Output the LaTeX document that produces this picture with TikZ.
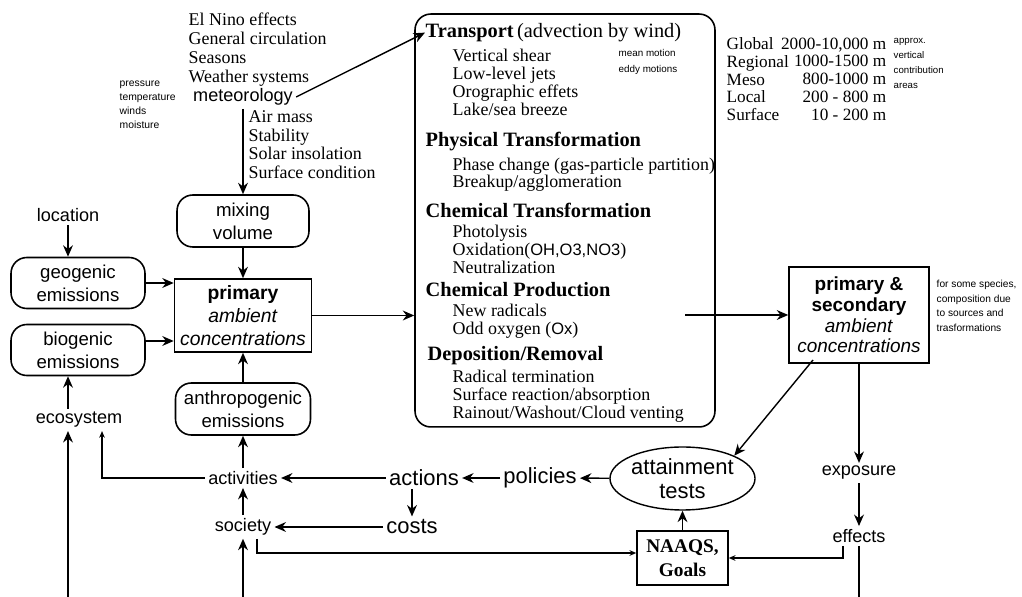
\documentclass[tikz,border=0pt]{standalone}
\usepackage{fontspec}
\setmainfont{Liberation Serif}
\setsansfont{Liberation Sans}
\usetikzlibrary{shapes.geometric, arrows.meta, positioning, calc}

\begin{document}
\begin{tikzpicture}[
  x=0.02cm, y=-0.02cm,
  line width=0.8pt,
  rbox/.style={draw, line width=0.9pt, rounded corners=9pt, align=center, inner sep=1pt,
               minimum width=2.68cm, minimum height=1.02cm,
               font=\sffamily\fontsize{10.6}{13}\selectfont},
  sbox/.style={draw, line width=0.9pt, align=center, inner sep=1pt},
  lbl/.style={font=\sffamily\fontsize{10.3}{12}\selectfont, inner sep=1.5pt},
  big/.style={font=\sffamily\fontsize{12.5}{13.6}\selectfont, inner sep=1.5pt},
  tiny/.style={font=\sffamily\fontsize{5.7}{8.4}\selectfont, align=left, inner sep=0pt, anchor=north west},
  items/.style={font=\fontsize{10.2}{10.3}\selectfont, align=left, inner sep=0pt, anchor=north west},
  head/.style={font=\fontsize{11.6}{13}\selectfont\bfseries, inner sep=0pt, anchor=base west},
  >={Stealth[length=6.5pt,width=5.6pt]},
  small/.style={-{Stealth[length=3.8pt,width=3.2pt]}},
]
  \useasboundingbox (0,0) rectangle (1022,597);

  % meteorology column
  \node[items, font=\fontsize{10.2}{10.9}\selectfont] (wx) at (188,12)
    {El Nino effects\\General circulation\\Seasons\\Weather systems};
  \node[tiny, font=\sffamily\fontsize{5.9}{8.1}\selectfont] (pty) at (119,80)
    {pressure\\temperature\\winds\\moisture};
  \node[lbl] (met) at (243,97) {meteorology};
  \node[items, font=\fontsize{10.2}{10.6}\selectfont] (air) at (248,110)
    {Air mass\\Stability\\Solar insolation\\Surface condition};

  \node[rbox, minimum width=2.64cm, minimum height=1.04cm] (mix) at (243,221) {mixing\\volume};
  \node[lbl] (location) at (68,215) {location};
  \node[rbox] (geo) at (78,283) {geogenic\\emissions};
  \node[rbox] (bio) at (78,350) {biogenic\\emissions};
  \node[sbox, minimum width=2.74cm, minimum height=1.46cm,
        font=\sffamily\fontsize{11}{13.3}\selectfont] (prim) at (243,315.5)
    {\textbf{primary}\\\textit{ambient}\\\textit{concentrations}};
  \node[rbox, minimum width=2.70cm, minimum height=1.04cm] (anth) at (243,409) {anthropogenic\\emissions};
  \node[lbl] (eco) at (79,420) {ecosystem};

  % processes
  \node[draw, line width=0.9pt, rounded corners=9pt, minimum width=6cm, minimum height=8.26cm,
        inner sep=0pt] (proc) at (565,220.5) {};
  \node[head] (tr) at (425,37.5) {Transport\,{\mdseries(advection by wind)}};
  \node[items] (tri) at (452,48) {Vertical shear\\Low-level jets\\Orographic effets\\Lake/sea breeze};
  \node[tiny, font=\sffamily\fontsize{5.6}{9}\selectfont] (mot) at (618,49) {mean motion\\eddy motions};
  \node[head] (ph) at (425,146.5) {Physical Transformation};
  \node[items, font=\fontsize{10.2}{9.9}\selectfont] (phi) at (452,157)
    {Phase change (gas-particle partition)\\Breakup/agglomeration};
  \node[head] (ch) at (425,217.5) {Chemical Transformation};
  \node[items] (chi) at (452,224)
    {Photolysis\\Oxidation({\sffamily\fontsize{9.4}{10}\selectfont OH,O3,NO3})\\Neutralization};
  \node[head] (cp) at (425,296.5) {Chemical Production};
  \node[items] (cpi) at (452,303) {New radicals\\Odd oxygen ({\sffamily\fontsize{9.4}{10}\selectfont Ox})};
  \node[head] (dp) at (427,360.5) {Deposition/Removal};
  \node[items] (dpi) at (452,369)
    {Radical termination\\Surface reaction/absorption\\Rainout/Washout/Cloud venting};
  \coordinate (cpout) at (685,315);

  % scales
  \node[items, font=\fontsize{9.8}{10.1}\selectfont] (scl) at (726,37)
    {Global\\Regional\\Meso\\Local\\Surface};
  \node[items, anchor=north east, align=right, font=\fontsize{9.8}{10.1}\selectfont] (scr) at (887,37)
    {2000-10,000 m\\1000-1500 m\\800-1000 m\\200 - 800 m\\10 - 200 m};
  \node[tiny, font=\sffamily\fontsize{5.5}{8.5}\selectfont] (apx) at (893,38)
    {approx.\\vertical\\contribution\\areas};

  % right side
  \node[sbox, minimum width=2.8cm, minimum height=1.92cm,
        font=\sffamily\fontsize{10.8}{11.7}\selectfont] (ps) at (859,315)
    {\textbf{primary \&}\\\textbf{secondary}\\\textit{ambient}\\\textit{concentrations}};
  \node[tiny, font=\sffamily\fontsize{5.8}{8.5}\selectfont] (psn) at (936,279)
    {for some species,\\composition due\\to sources and\\trasformations};
  \coordinate (psdiag) at (813,360);
  \node[lbl] (expo) at (859,473) {exposure};
  \node[lbl] (eff) at (859,536) {effects};
  \node[draw, ellipse, line width=0.8pt, inner sep=0pt, minimum width=2.62cm, minimum height=1.26cm,
        align=center, font=\sffamily\fontsize{12.5}{13.6}\selectfont] (att) at (682.5,478.5)
    {attainment\\tests};
  \node[sbox, minimum width=1.82cm, minimum height=1.08cm,
        font=\fontsize{11}{14}\selectfont\bfseries] (naaqs) at (682.5,558) {NAAQS,\\Goals};

  % society
  \node[big] (pol) at (540,478) {policies};
  \node[big] (actions) at (424,478) {actions};
  \node[big] (costs) at (412,527) {costs};
  \node[lbl] (act) at (243,478) {activities};
  \node[lbl] (soc) at (243,527) {society};
  \coordinate (bot) at (0,606);

  \draw[->] (met) -- (mix);
  \draw[->] (met.east) -- (tr.west);
  \draw[->] (location) -- (location |- geo.north);
  \draw[->] (mix) -- (prim);
  \draw[->] (geo) -- (geo -| prim.west);
  \coordinate (bioout) at ($(bio.east)+(0,-9)$);
  \draw[->] (bioout) -- (bioout -| prim.west);
  \draw[->] (location |- eco.north) -- (location |- bio.south);
  \draw[->] (anth) -- (prim);
  \draw[->] (prim) -- (prim -| proc.west);
  \draw[->] (cpout) -- (ps);
  \draw[->] (psdiag) -- (att.north east);
  \draw[->] (ps) -- (expo);
  \draw[->] (expo) -- (eff);
  \draw[small] ($(eff.south)+(-16,0)$) |- (naaqs.east);
  \draw[->] (naaqs) -- (att);
  \draw[->] (att) -- (pol);
  \draw[->] (pol) -- (actions);
  \draw[->] (actions) -- (act);
  \draw[->] (costs |- actions.south) -- (costs);
  \draw[->] (costs) -- (soc);
  \draw[->] (soc) -- (act);
  \draw[->] (act) -- (anth);
  \draw[small] (act.west) -| ($(eco.south)+(23,0)$);
  \draw[small] ($(soc.south)+(14,0)$) |- ($(naaqs.west)+(0,-5)$);
  \draw[->] (eff) -- (eff |- bot) -| (soc);
  \draw[->] (soc |- bot) -| (location |- eco.south);
\end{tikzpicture}
\end{document}
